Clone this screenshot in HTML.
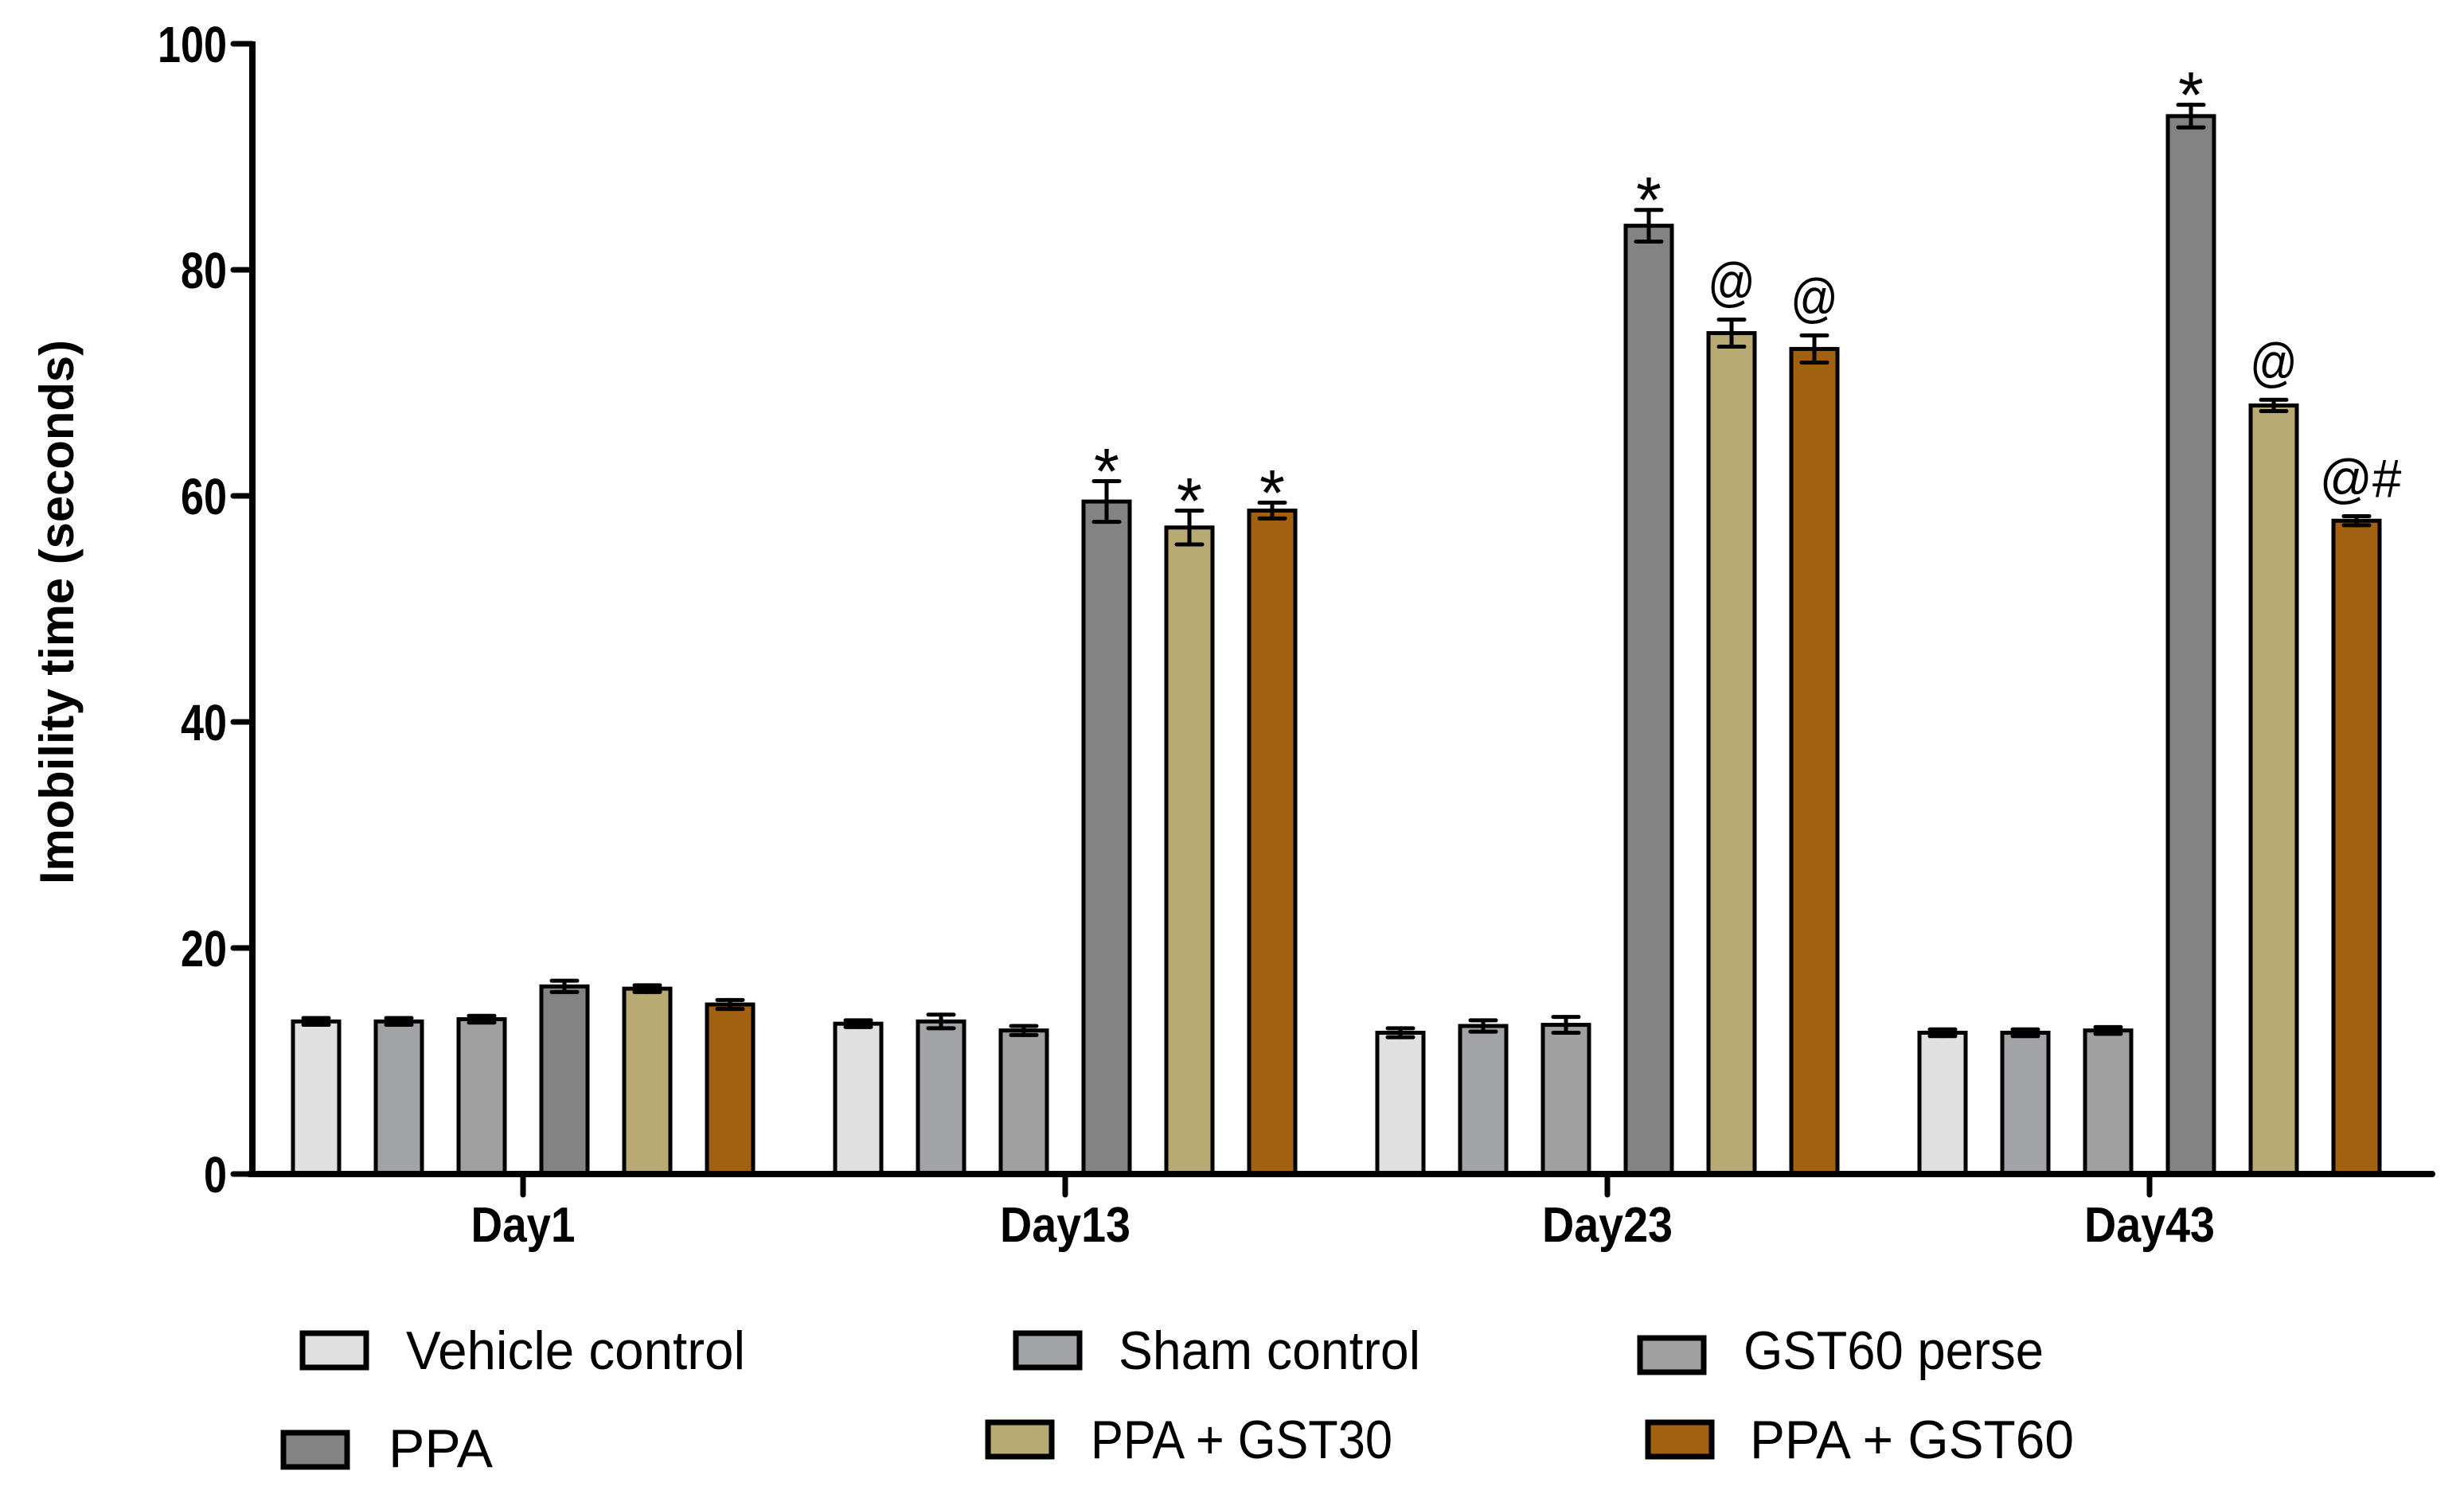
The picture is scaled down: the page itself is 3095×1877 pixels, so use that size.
<!DOCTYPE html>
<html><head><meta charset="utf-8"><style>
html,body{margin:0;padding:0;background:#fff;}
svg{display:block;font-family:"Liberation Sans",Arial,sans-serif;}
</style></head><body>
<svg id="chart" width="3095" height="1877" viewBox="0 0 3095 1877" xmlns="http://www.w3.org/2000/svg"></svg>
<script>
const categories = ["Day1","Day13","Day23","Day43"];
const seriesNames = ["Vehicle control","Sham control","GST60 perse","PPA","PPA + GST30","PPA + GST60"];
const vehicle = [13.5,13.3,12.5,12.5];
const sham = [13.5,13.5,13.1,12.5];
const gst60perse = [13.7,12.7,13.2,12.7];
const ppa = [16.6,59.5,83.9,93.6];
const ppaGst30 = [16.4,57.2,74.4,68.0];
const ppaGst60 = [15.0,58.7,73.0,57.8];
const errVehicle = [0.3,0.3,0.4,0.3];
const errSham = [0.3,0.6,0.5,0.3];
const errGst60perse = [0.3,0.4,0.7,0.3];
const errPpa = [0.5,1.8,1.4,1.0];
const errPpaGst30 = [0.3,1.5,1.2,0.5];
const errPpaGst60 = [0.4,0.7,1.2,0.4];
const annPpa = ["","*","*","*"];
const annPpaGst30 = ["","*","@","@"];
const annPpaGst60 = ["","*","@","@#"];
const yTicks = [0,20,40,60,80,100];

const series=[vehicle,sham,gst60perse,ppa,ppaGst30,ppaGst60];
const errs=[errVehicle,errSham,errGst60perse,errPpa,errPpaGst30,errPpaGst60];
const anns=[null,null,null,annPpa,annPpaGst30,annPpaGst60];
const colors=["#e0e0e0","#a2a3a7","#a0a0a0","#838383","#b8aa72","#a26110"];
const NS="http://www.w3.org/2000/svg";
const svg=document.getElementById('chart');
const X0=317,XEND=3055,Y0=1475,Y100=55;
function y(v){return Y0-(v/100)*(Y0-Y100);}
function cx(ci){return 657+ci*681;}
const step=104,bw=58;
function mk(tag,attrs,parent){const e=document.createElementNS(NS,tag);for(const k in attrs)e.setAttribute(k,attrs[k]);(parent||svg).appendChild(e);return e;}

// y axis
const yAxis=mk('line',{x1:X0,y1:Y100-3,x2:X0,y2:Y0+4,stroke:'#000','stroke-width':8});


yTicks.forEach(t=>{
  const tk=mk('line',{x1:X0-24,y1:y(t),x2:X0,y2:y(t),stroke:'#000','stroke-width':7,'stroke-linecap':'round'});
  
  
  const s=String(t);
  const tl=mk('text',{x:X0-32,y:y(t)+23,'text-anchor':'end','font-size':64,'font-weight':'bold',textLength:s.length*29,lengthAdjust:'spacingAndGlyphs'});
  tl.textContent=s;
  
  
});
const yt=mk('text',{x:0,y:0,'text-anchor':'middle','font-size':60,'font-weight':'bold',textLength:684,lengthAdjust:'spacingAndGlyphs',transform:'translate(92,769) rotate(-90)'});
yt.textContent='Imobility time (seconds)';



// bars
categories.forEach((c,ci)=>{
  series.forEach((s,si)=>{
    const xc=cx(ci)+(si-2.5)*step;
    const v=s[ci],e=errs[si][ci];
    const r=mk('rect',{x:xc-bw/2,y:y(v),width:bw,height:Y0-y(v),fill:colors[si],stroke:'#000','stroke-width':5});
    
    
    const g=mk('g',{stroke:'#000','stroke-width':5,'stroke-linecap':'round'});
    
    
    mk('line',{x1:xc,y1:y(v+e),x2:xc,y2:y(v-e)},g);
    mk('line',{x1:xc-16,y1:y(v+e),x2:xc+16,y2:y(v+e)},g);
    mk('line',{x1:xc-16,y1:y(v-e),x2:xc+16,y2:y(v-e)},g);
    if(anns[si]&&anns[si][ci]){
      const a=anns[si][ci];
      const star=a==='*';
      const attrs=star?{x:xc,y:y(v+e)+16,'text-anchor':'middle','font-size':82}
        :{x:xc+(a==='@#'?5:0),y:y(v+e)-24,'text-anchor':'middle','font-size':68,textLength:a==='@#'?103:60,lengthAdjust:'spacingAndGlyphs'};
      const t=mk('text',attrs);
      t.textContent=a;
      
      
    }
  });
  const tk=mk('line',{x1:cx(ci),y1:Y0,x2:cx(ci),y2:Y0+26,stroke:'#000','stroke-width':7,'stroke-linecap':'round'});
  
  
  const cl=mk('text',{x:cx(ci),y:1560,'text-anchor':'middle','font-size':62,'font-weight':'bold',textLength:c.length===4?131:164,lengthAdjust:'spacingAndGlyphs'});
  cl.textContent=c;
  
  
});
const xAxis=mk('line',{x1:X0-4,y1:Y0,x2:XEND,y2:Y0,stroke:'#000','stroke-width':8,'stroke-linecap':'round'});



// legend
const legPos=[[377,1672,510,1720,426],[1273,1672,1405,1720,379],[2057,1678,2190,1720,377],[353,1797,488,1843,131],[1238,1784,1370,1832,379],[2067,1784,2198,1832,407]];
seriesNames.forEach((n,i)=>{
  const [sx,sy,tx,ty,tw]=legPos[i];
  const g=mk('g',{});
  
  
  mk('rect',{x:sx+3,y:sy+3,width:80,height:43,fill:colors[i],stroke:'#000','stroke-width':7},g);
  const t=mk('text',{x:tx,y:ty,'font-size':68,textLength:tw,lengthAdjust:'spacingAndGlyphs'},g);
  t.textContent=n;
});
</script>
</body></html>
